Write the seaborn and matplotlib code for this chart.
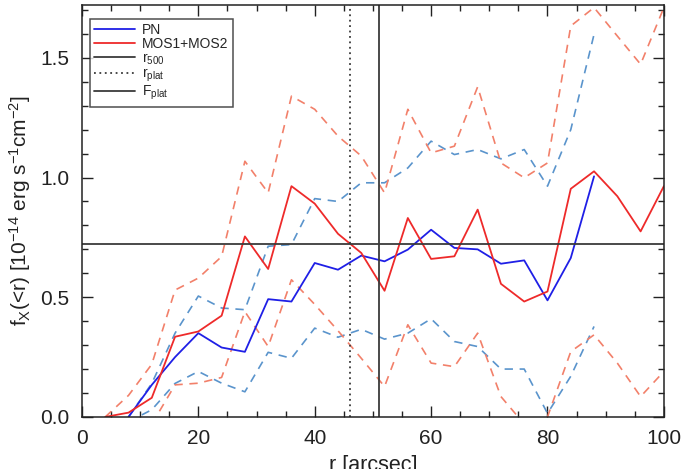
import numpy as np
import matplotlib
matplotlib.use("Agg")
import matplotlib.pyplot as plt
from matplotlib.lines import Line2D
from matplotlib.ticker import MultipleLocator
import seaborn as sns

# radial bins [arcsec]
r_pn = np.arange(8, 89, 4)
r_mos = np.arange(4, 101, 4)
r_mos_lo = np.arange(12, 101, 4)

# cumulative flux, 1e-14 erg/s/cm2
pn_flux = [0.0, 0.134, 0.25, 0.35, 0.29, 0.272, 0.492, 0.482, 0.643, 0.615, 0.674,
           0.65, 0.699, 0.782, 0.706, 0.70, 0.64, 0.654, 0.487, 0.664, 1.005]
pn_upper = [0.0, 0.14, 0.35, 0.505, 0.455, 0.448, 0.713, 0.72, 0.912, 0.90, 0.978,
            0.978, 1.04, 1.152, 1.096, 1.117, 1.078, 1.117, 0.964, 1.20, 1.598]
pn_lower = [-0.02, 0.03, 0.14, 0.19, 0.141, 0.105, 0.27, 0.245, 0.371, 0.333, 0.366,
            0.325, 0.35, 0.41, 0.315, 0.294, 0.20, 0.20, 0.015, 0.17, 0.378]

mos_flux = [0.0, 0.018, 0.08, 0.335, 0.357, 0.423, 0.754, 0.618, 0.964, 0.891, 0.765,
            0.685, 0.527, 0.831, 0.66, 0.671, 0.866, 0.556, 0.482, 0.524, 0.953,
            1.026, 0.922, 0.775, 0.964]
mos_upper = [0.0, 0.09, 0.22, 0.53, 0.58, 0.67, 1.068, 0.936, 1.34, 1.285, 1.173,
             1.09, 0.936, 1.285, 1.103, 1.131, 1.379, 1.061, 0.999, 1.061, 1.633,
             1.71, 1.591, 1.473, 1.71]
mos_lower = [-0.03, 0.134, 0.141, 0.165, 0.44, 0.294, 0.573, 0.47, 0.36, 0.245,
             0.127, 0.385, 0.225, 0.21, 0.35, 0.085, -0.03, 0.0, 0.273, 0.343,
             0.225, 0.085, 0.19]

r500 = 51.0
r_plat = 46.1
f_plat = 0.722

BLUE = "#1f1fe6"
RED = "#ee2a2a"
BLUE_D = "#5a94cc"
RED_D = "#f2806a"
GREY = "#3a3a3a"

sns.set_style("ticks")
plt.rcParams["font.family"] = ["Liberation Sans", "DejaVu Sans"]
plt.rcParams["mathtext.fontset"] = "custom"
plt.rcParams["mathtext.rm"] = "Liberation Sans"
plt.rcParams["mathtext.it"] = "Liberation Sans"

fig = plt.figure(figsize=(6.83, 4.69), dpi=100)
ax = fig.add_axes([0.12, 0.111, 0.852, 0.878])

dash = (0, (5, 4))
sns.lineplot(x=r_pn, y=pn_upper, ax=ax, color=BLUE_D, lw=1.2, ls=dash)
sns.lineplot(x=r_pn, y=pn_lower, ax=ax, color=BLUE_D, lw=1.2, ls=dash)
sns.lineplot(x=r_mos, y=mos_upper, ax=ax, color=RED_D, lw=1.2, ls=dash)
sns.lineplot(x=r_mos_lo, y=mos_lower, ax=ax, color=RED_D, lw=1.2, ls=dash)
sns.lineplot(x=r_pn, y=pn_flux, ax=ax, color=BLUE, lw=1.3)
sns.lineplot(x=r_mos, y=mos_flux, ax=ax, color=RED, lw=1.3)

ax.axvline(r500, color=GREY, lw=1.3)
ax.axvline(r_plat, color=GREY, lw=1.3, ls=(0, (1, 2)))
ax.axhline(f_plat, color=GREY, lw=1.3)

ax.set_xlim(0, 100)
ax.set_ylim(0, 1.72)
ax.xaxis.set_major_locator(MultipleLocator(20))
ax.xaxis.set_minor_locator(MultipleLocator(5))
ax.yaxis.set_major_locator(MultipleLocator(0.5))
ax.yaxis.set_minor_locator(MultipleLocator(0.1))
ax.yaxis.set_major_formatter(plt.FormatStrFormatter("%.1f"))
ax.tick_params(which="both", direction="in", top=True, right=True, width=1.0,
               color="#222222", labelsize=15, labelcolor="#222222")
ax.tick_params(which="major", length=8, pad=9)
ax.tick_params(which="minor", length=4)
for s in ax.spines.values():
    s.set_linewidth(1.1)
    s.set_color("#222222")

ax.set_xlabel("r [arcsec]", fontsize=15.5, color="#222222", labelpad=5)
ax.set_ylabel(r"f$_\mathrm{X}$(<r) [10$^{-14}$ erg s$^{-1}$cm$^{-2}$]",
              fontsize=15, color="#222222", labelpad=5)

handles = [
    Line2D([], [], color=BLUE, lw=1.3),
    Line2D([], [], color=RED, lw=1.3),
    Line2D([], [], color=GREY, lw=1.3),
    Line2D([], [], color=GREY, lw=1.3, ls=(0, (1, 2))),
    Line2D([], [], color=GREY, lw=1.3),
]
labels = ["PN", "MOS1+MOS2", r"r$_\mathrm{500}$", r"r$_\mathrm{plat}$", r"F$_\mathrm{plat}$"]
leg = ax.legend(handles, labels, loc="upper left", bbox_to_anchor=(0.013, 0.966),
                fontsize=10, frameon=True, fancybox=False, edgecolor="#222222",
                handlelength=3.0, handletextpad=0.5, labelspacing=0.0,
                borderpad=0.3, borderaxespad=0)
leg.get_frame().set_linewidth(1.1)

fig.savefig("out.png", dpi=100)
